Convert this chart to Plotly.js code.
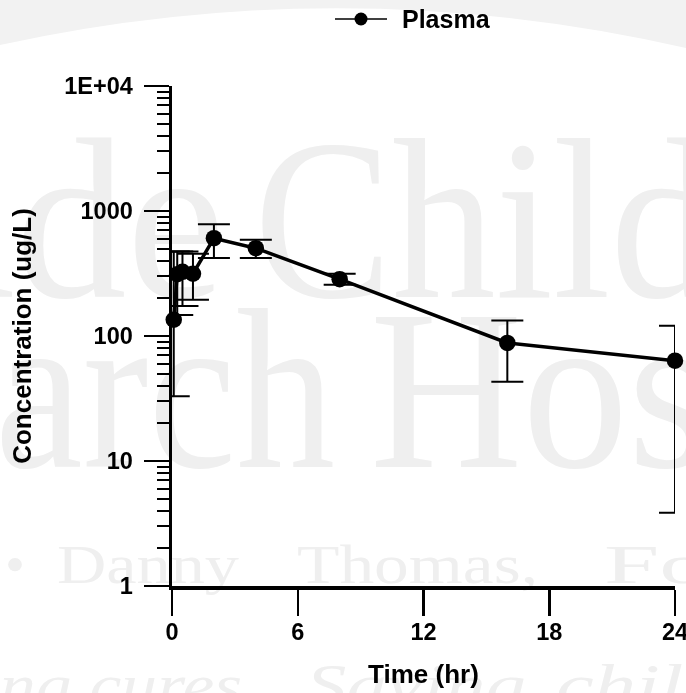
<!DOCTYPE html>
<html>
<head>
<meta charset="utf-8">
<script src="https://cdn.plot.ly/plotly-3.0.1.min.js"></script>
<style>
  html, body { margin: 0; padding: 0; background: #ffffff; }
  #wrap { position: relative; width: 686px; height: 693px; overflow: hidden; }
  #wm { position: absolute; left: 0; top: 0; z-index: 0; }
  #chart { position: absolute; left: 0; top: 0; width: 686px; height: 693px; z-index: 1; }
</style>
</head>
<body>
<div id="wrap">
  <canvas id="wm" width="686" height="693"></canvas>
  <div id="chart"></div>
</div>
<script>
// ---- data ----
var timeHr     = [0.083, 0.25, 0.5, 1, 2, 4, 8, 16, 24];
var concMean   = [135, 312, 326, 315, 606, 504, 285, 88, 63.5];
var concUpper  = [474, 474, 474, 454, 784, 588, 315, 133, 121];
var concLower  = [33, 147, 174, 195, 420, 420, 257, 43, 3.86];
var seriesName = "Plasma";
var xTickVals  = [0, 6, 12, 18, 24];
var xTickText  = ["0", "6", "12", "18", "24"];
var yTickVals  = [1, 10, 100, 1000, 10000];
var yTickText  = ["1", "10", "100", "1000", "1E+04"];

// ---- faint background watermark (decorative stamp behind the chart) ----
(function () {
  var c = document.getElementById("wm").getContext("2d");
  c.fillStyle = "#f2f2f2";
  c.beginPath();
  c.moveTo(0, 0); c.lineTo(686, 0); c.lineTo(686, 48);
  c.quadraticCurveTo(343, -30, 0, 45); c.closePath(); c.fill();
  c.fillStyle = "#efefef";
  function put(txt, x, y, size, w, italic) {
    c.font = (italic ? "italic " : "") + size + "px 'Liberation Serif', 'DejaVu Serif', serif";
    var m = c.measureText(txt).width;
    c.save();
    c.translate(x, y);
    c.scale(w / m, 1);
    c.fillText(txt, 0, 0);
    c.restore();
  }
  put("ude", -95, 297, 228, 320);
  put("Child", 254, 297, 228, 460);
  put("arch", -5, 467, 228, 340);
  put("Hos", 370, 467, 228, 340);
  put("\u2022", 5, 583, 55, 20);
  put("Danny", 57, 583, 55, 182);
  put("Thomas,", 297, 583, 55, 241);
  put("Fo", 604, 583, 55, 105);
  put("ing cures.", -20, 705, 60, 280, true);
  put("Saving", 306, 705, 60, 220, true);
  put("child", 556, 705, 60, 170, true);
})();

var errPlus  = concUpper.map(function (u, i) { return u - concMean[i]; });
var errMinus = concLower.map(function (l, i) { return concMean[i] - l; });

var minorVals = [];
for (var d = 1; d < 10000; d *= 10) {
  for (var k = 2; k <= 9; k++) minorVals.push(k * d);
}

var FONT = "Liberation Sans, Arial, Helvetica, sans-serif";

// plot area in pixels (for placing the legend in paper units)
var L = 172, R = 11, T = 86, B = 107, W = 686, H = 693;
function px2x(p) { return (p - L) / (W - L - R); }
function py2y(p) { return (H - B - p) / (H - T - B); }

var trace = {
  x: timeHr,
  y: concMean,
  name: seriesName,
  type: "scatter",
  mode: "lines+markers",
  line: { color: "#000000", width: 3.5 },
  marker: { color: "#000000", size: 16.5, symbol: "circle" },
  error_y: {
    type: "data", symmetric: false,
    array: errPlus, arrayminus: errMinus,
    color: "#000000", thickness: 2, width: 16
  },
  cliponaxis: false,
  showlegend: false
};

var layout = {
  width: W, height: H, autosize: false,
  margin: { l: L, r: R, t: T, b: B, pad: 0 },
  paper_bgcolor: "rgba(0,0,0,0)",
  plot_bgcolor: "rgba(0,0,0,0)",
  font: { family: FONT, color: "#000000", size: 22, weight: "bold" },
  showlegend: false,
  shapes: [
    { type: "line", xref: "paper", yref: "paper",
      x0: px2x(335), x1: px2x(387), y0: py2y(19), y1: py2y(19),
      line: { color: "#000000", width: 1.5 } },
    { type: "circle", xref: "paper", yref: "paper",
      x0: px2x(354.5), x1: px2x(367.5), y0: py2y(12.5), y1: py2y(25.5),
      fillcolor: "#000000", line: { color: "#000000", width: 0 } }
  ],
  annotations: [
    { text: seriesName, xref: "paper", yref: "paper",
      x: px2x(400), y: py2y(19), xanchor: "left", yanchor: "middle",
      showarrow: false,
      font: { family: FONT, size: 25, color: "#000000", weight: "bold" } }
  ],
  xaxis: {
    range: [0, 24],
    tickmode: "array", tickvals: xTickVals, ticktext: xTickText,
    ticks: "outside", ticklen: 26, tickwidth: 2.5, tickcolor: "#000000",
    showline: true, linewidth: 3.5, linecolor: "#000000",
    showgrid: false, zeroline: false,
    tickfont: { family: FONT, size: 23.5, color: "#000000", weight: "bold" },
    ticklabeloverflow: "allow",
    ticklabelstandoff: -4,
    title: { text: "Time (hr)", font: { family: FONT, size: 26, color: "#000000", weight: "bold" }, standoff: 22 }
  },
  yaxis: {
    type: "log", range: [0, 4],
    tickmode: "array", tickvals: yTickVals, ticktext: yTickText,
    ticks: "outside", ticklen: 25, tickwidth: 2.5, tickcolor: "#000000",
    minor: { tickmode: "array", tickvals: minorVals, ticks: "outside", ticklen: 12, tickwidth: 2, tickcolor: "#000000", showgrid: false },
    showline: true, linewidth: 3.5, linecolor: "#000000",
    showgrid: false, zeroline: false,
    tickfont: { family: FONT, size: 23.5, color: "#000000", weight: "bold" },
    ticklabelstandoff: 6,
    title: { text: "Concentration (ug/L)", font: { family: FONT, size: 26, color: "#000000", weight: "bold" }, standoff: 26 }
  }
};

Plotly.newPlot("chart", [trace], layout, { displayModeBar: false, staticPlot: true });
</script>
</body>
</html>
